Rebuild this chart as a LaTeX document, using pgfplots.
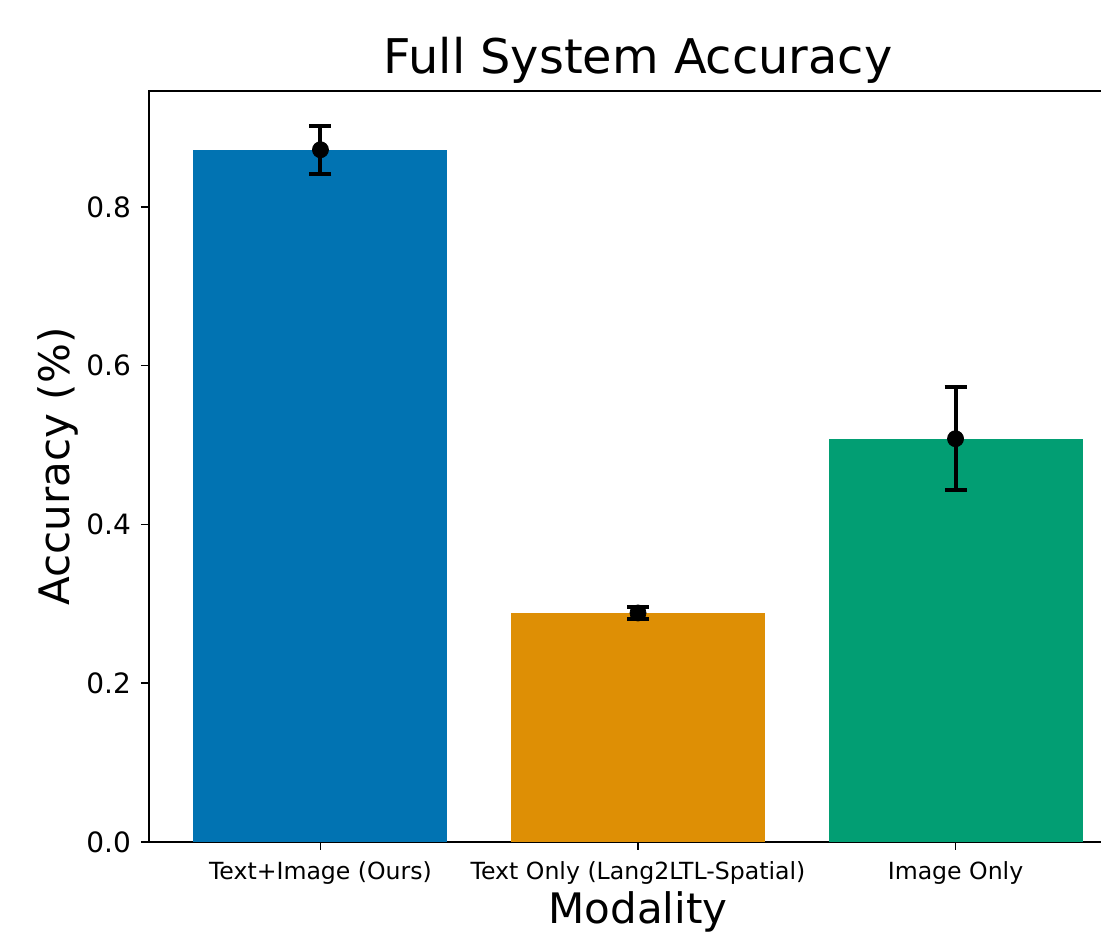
\documentclass[border=0pt]{standalone}
\usepackage{fontspec}
\setmainfont{DejaVu Sans}
\usepackage{pgfplots}
\pgfplotsset{compat=1.18}
\definecolor{cb1}{HTML}{0173B2}
\definecolor{cb2}{HTML}{DE8F05}
\definecolor{cb3}{HTML}{029E73}
\begin{document}
\begin{tikzpicture}
\begin{axis}[
  at={(0,0)}, anchor=south west,
  scale only axis, width=489pt, height=375.5pt,
  xmin=-0.54, xmax=2.54, ymin=0, ymax=0.946,
  xtick={0,1,2},
  xticklabels={Text+Image (Ours), Text Only (Lang2LTL-Spatial), Image Only},
  ytick={0,0.2,0.4,0.6,0.8},
  yticklabel style={/pgf/number format/fixed, /pgf/number format/fixed zerofill, /pgf/number format/precision=1, font=\fontsize{14}{16}\selectfont, xshift=-1.5pt},
  /pgf/number format/assume math mode=true,
  tick align=outside, tick pos=left, major tick length=4pt,
  axis line style={line width=0.8pt},
  every tick/.style={black, line width=0.8pt},
  xticklabel style={font=\fontsize{11.8}{14}\selectfont, yshift=-2.5pt},
  title={Full System Accuracy},
  title style={font=\fontsize{23.9}{28}\selectfont, yshift=-6pt},
  xlabel={Modality}, ylabel={Accuracy (\%)},
  ylabel shift=-3pt, xlabel shift=-3.5pt,
  label style={font=\fontsize{21}{25}\selectfont},
]
\addplot[ybar, bar width=0.8, bar shift=0pt, fill=cb1, draw=none] coordinates {(0,0.872)};
\addplot[ybar, bar width=0.8, bar shift=0pt, fill=cb2, draw=none] coordinates {(1,0.2885)};
\addplot[ybar, bar width=0.8, bar shift=0pt, fill=cb3, draw=none] coordinates {(2,0.508)};
\addplot[black, only marks, mark=*, mark size=4pt,
  error bars/.cd, y dir=both, y explicit,
  error bar style={line width=2pt, black},
  error mark=|,
  error mark options={line width=2pt, mark size=5.5pt, black}]
  coordinates {(0,0.872) +- (0,0.030) (1,0.2885) +- (0,0.0076) (2,0.508) +- (0,0.065)};
\end{axis}
\pgfresetboundingbox
\useasboundingbox (-74.5pt,-46.5pt) rectangle (476pt,421pt);
\end{tikzpicture}
\end{document}
